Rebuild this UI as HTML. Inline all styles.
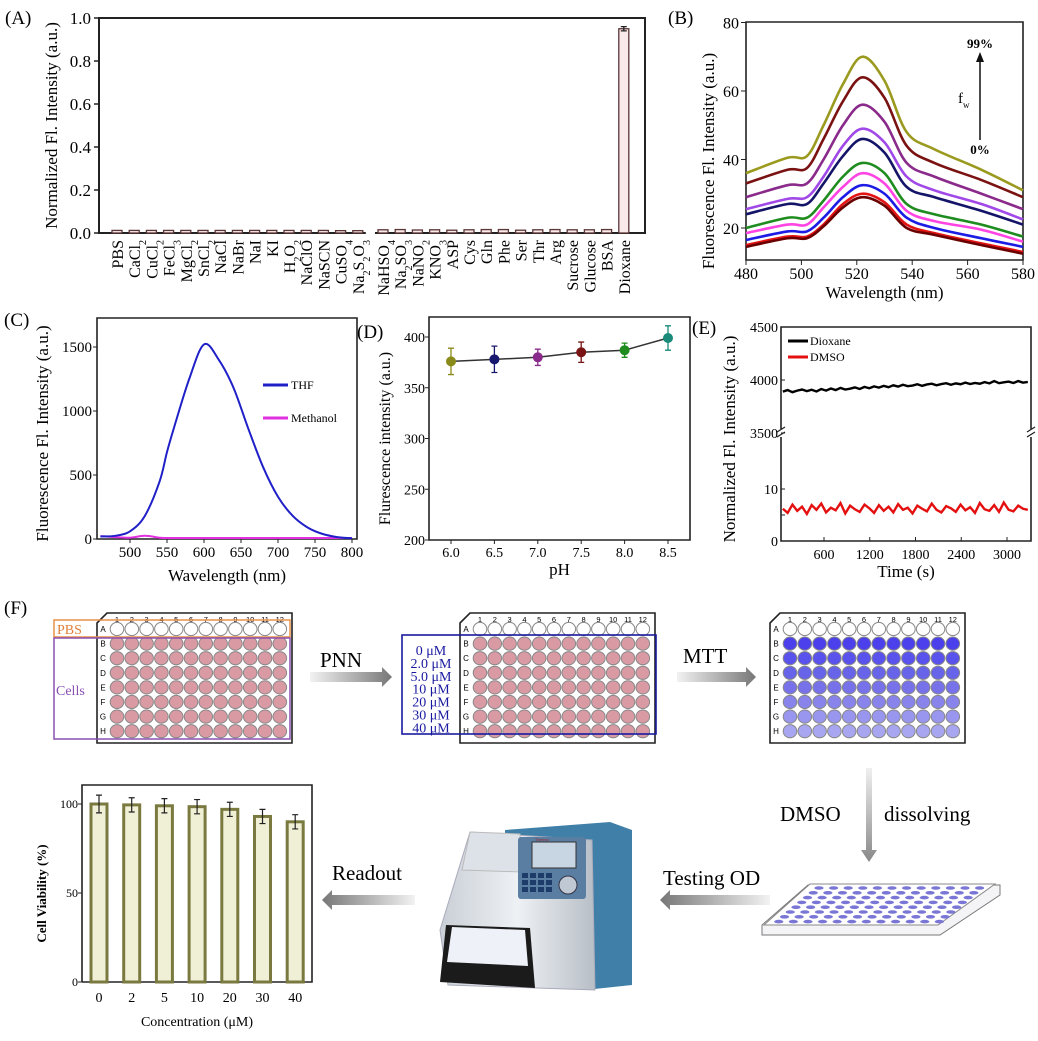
<!DOCTYPE html>
<html><head><meta charset="utf-8"><style>
html,body{margin:0;padding:0;background:#fff}
svg{display:block;font-family:"Liberation Serif",serif}
</style></head><body>
<svg id="fig" width="1038" height="1041" viewBox="0 0 1038 1041" xmlns="http://www.w3.org/2000/svg">
<defs>
<linearGradient id="gArrR" x1="0" x2="1" y1="0" y2="0"><stop offset="0" stop-color="#f2f2f2"/><stop offset="1" stop-color="#777"/></linearGradient>
<linearGradient id="gArrL" x1="1" x2="0" y1="0" y2="0"><stop offset="0" stop-color="#f2f2f2"/><stop offset="1" stop-color="#777"/></linearGradient>
<linearGradient id="gArrD" x1="0" x2="0" y1="0" y2="1"><stop offset="0" stop-color="#f0f0f0"/><stop offset="1" stop-color="#888"/></linearGradient>
<linearGradient id="gBody" x1="0" x2="1"><stop offset="0" stop-color="#c9cfd6"/><stop offset="0.5" stop-color="#eef1f4"/><stop offset="1" stop-color="#b7bec6"/></linearGradient>
</defs>
</svg>
<script>
// ---------- DATA ----------
const catsA = ["PBS","CaCl_2","CuCl_2","FeCl_3","MgCl_2","SnCl_2","NaCl","NaBr","NaI","KI","H_2O_2","NaClO","NaSCN","CuSO_4","Na_2S_2O_3","NaHSO_4","Na_2SO_3","NaNO_2","KNO_3","ASP","Cys","Gln","Phe","Ser","Thr","Arg","Sucrose","Glucose","BSA","Dioxane"];
const valsA = [0.012,0.012,0.012,0.012,0.012,0.012,0.012,0.012,0.012,0.012,0.012,0.012,0.012,0.011,0.011,0.015,0.016,0.014,0.015,0.013,0.015,0.016,0.016,0.013,0.015,0.016,0.015,0.015,0.016,0.95];
const ticksA = [0.0,0.2,0.4,0.6,0.8,1.0];

const wlB = [480,495,502,508,515,522,530,538,548,565,580];
const seriesB = [
 [36,40.5,41,50,62,70,63,48,43,37,31],
 [33,37,37.5,46,57,64,58,44,39,34,29],
 [29,32.5,33,40,50,56,51,39,35,30,25.5],
 [25.5,28.5,29,35,44,49,45,35,31,27,22.5],
 [24,27,27,33,41,46,42,32,29,25,21],
 [20,23,23,28,35,39,36,27,24,21,17.5],
 [18.5,21,21,26,32,36,33,25,22,19.5,16],
 [16.5,19,19,23,29,32.5,30,23,20,17,14.5],
 [15,17.5,17.5,21,27,30,27.5,21,18.5,15.5,13],
 [14.5,17,17,20.5,26,29,26.5,20,18,15,12.5]];
const colorsB = ["#9a9a1e","#7a1212","#8a2a8a","#a048e8","#141468","#1e8c1e","#ff44e4","#1c1ce4","#e41414","#6a0000"];
const ticksBx = [480,500,520,540,560,580];
const ticksBy = [20,40,60,80];

const wlC = [460,480,500,520,540,550,560,580,600,620,640,660,680,700,720,740,760,780,800];
const thfC = [20,25,60,180,450,680,880,1250,1520,1400,1180,860,560,330,180,90,40,15,5];
const metC = [22,15,10,25,10,8,8,8,8,8,8,8,8,8,8,8,8,8,8];
const ticksCx = [500,550,600,650,700,750,800];
const ticksCy = [0,500,1000,1500];

const phD = [6.0,6.5,7.0,7.5,8.0,8.5];
const valD = [376,378,380,385,387,399];
const errD = [13,13,8,10,7,12];
const colD = ["#8a8a1a","#18186e","#8a2a8a","#7a1414","#1e8c1e","#1a8a7a"];
const ticksDy = [200,250,300,350,400];

const timeE = [60,123,186,249,312,375,438,501,564,627,690,753,816,879,942,1005,1068,1131,1194,1257,1320,1383,1446,1509,1572,1635,1698,1761,1824,1887,1950,2013,2076,2139,2202,2265,2328,2391,2454,2517,2580,2643,2706,2769,2832,2895,2958,3021,3084,3147,3210,3273];
const dioxE = [3890,3905,3885,3900,3910,3895,3908,3892,3915,3900,3920,3905,3925,3910,3918,3930,3915,3935,3922,3940,3928,3945,3932,3950,3938,3955,3942,3948,3960,3945,3958,3965,3950,3962,3970,3955,3968,3960,3975,3962,3972,3965,3980,3968,3990,3970,3978,3985,3972,3990,3975,3982];
const dmsoE = [6.2,5.4,7.0,5.8,6.6,5.2,6.9,6.0,7.2,5.5,6.4,5.9,7.3,5.3,6.8,6.1,5.6,7.0,6.3,5.4,6.9,5.8,6.6,5.5,7.1,6.0,6.4,5.3,6.8,6.2,5.7,7.2,6.0,5.5,6.7,6.3,5.6,7.0,5.9,6.5,5.4,7.3,6.1,5.8,6.9,5.6,7.4,6.0,5.7,6.8,6.2,6.0];
const ticksEx = [600,1200,1800,2400,3000];

const concF = ["0","2","5","10","20","30","40"];
const viabF = [100,99.5,99,98.5,97,93,90];
const errF = [5,4,4,4,4,4,4];
const ticksFy = [0,50,100];

// ---------- HELPERS ----------
const svg = document.getElementById('fig');
const NS = "http://www.w3.org/2000/svg";
function mk(tag, attrs, parent){const e=document.createElementNS(NS,tag);for(const k in attrs)e.setAttribute(k,attrs[k]);(parent||svg).appendChild(e);return e;}
function txt(s, attrs, parent){const e=mk('text',attrs,parent);e.textContent=s;return e;}
function smooth(pts){let d="M"+pts[0][0]+","+pts[0][1];for(let i=0;i<pts.length-1;i++){const p0=pts[i-1]||pts[i],p1=pts[i],p2=pts[i+1],p3=pts[i+2]||p2;const c1=[p1[0]+(p2[0]-p0[0])/6,p1[1]+(p2[1]-p0[1])/6],c2=[p2[0]-(p3[0]-p1[0])/6,p2[1]-(p3[1]-p1[1])/6];d+=` C${c1[0]},${c1[1]} ${c2[0]},${c2[1]} ${p2[0]},${p2[1]}`;}return d;}
function subText(label, attrs, parent){const e=mk('text',attrs,parent);label.split(/(_\d)/).forEach(part=>{if(!part)return;const t=document.createElementNS(NS,'tspan');if(part[0]==='_'){t.textContent=part[1];t.setAttribute('font-size','10');t.setAttribute('baseline-shift','sub');}else t.textContent=part;e.appendChild(t);});return e;}

// ---------- PANEL A ----------
(function(){
 const g=mk('g',{});
 
 
 const L=99,R=645,T=18,B=233;
 const y=v=>B-(v)*(B-T)/1.0;
 const x=i=>117+i*17.2+(i>=15?8:0);
 const lab=txt("(A)",{x:5,y:24,'font-size':19},g);
 
 
 const ax=mk('path',{d:`M${L},${T}H${R}V${B}H${L}Z`,fill:'none',stroke:'#222','stroke-width':2},g);
 
 
 ticksA.forEach(t=>{mk('line',{x1:L,x2:L-5,y1:y(t),y2:y(t),stroke:'#222','stroke-width':1.5},g);
  const tl=txt(t.toFixed(1),{x:L-8,y:y(t)+6,'font-size':17,'text-anchor':'end'},g);
  
  });
 const yt=txt("Normalized Fl. Intensity (a.u.)",{x:0,y:0,'font-size':17,'text-anchor':'middle',transform:`translate(57,${(T+B)/2}) rotate(-90)`},g);
 
 
 catsA.forEach((c,i)=>{
  const h=B-y(valsA[i]);
  const b=mk('rect',{x:x(i)-5,y:B-h,width:10,height:h,fill:'#fbeaea',stroke:'#5a3535','stroke-width':1.3},g);
  
  
  if(valsA[i]>0.5){mk('path',{d:`M${x(i)-3},${y(valsA[i]+0.01)}h6M${x(i)},${y(valsA[i]+0.01)}V${y(valsA[i]-0.01)}M${x(i)-3},${y(valsA[i]-0.01)}h6`,stroke:'#222','stroke-width':1.3},g);}
  const tl=subText(c,{x:0,y:0,'font-size':16,'text-anchor':'end',transform:`translate(${x(i)+6},${B+7}) rotate(-90)`},g);
  
  
 });
 mk('rect',{x:x(14)+8,y:B-2,width:x(15)-x(14)-16,height:5,fill:'#fff'},g);
})();

// ---------- PANEL B ----------
(function(){
 const g=mk('g',{});
 
 
 const L=746,R=1023,T=22,B=260;
 const x=v=>L+(v-480)*(R-L)/100;
 const y=v=>296.5-v*3.425;
 const lab=txt("(B)",{x:668,y:24,'font-size':19},g);
 
 
 const ax=mk('path',{d:`M${L},${T}H${R}V${B}H${L}Z`,fill:'none',stroke:'#222','stroke-width':1.6},g);
 
 
 ticksBy.forEach(t=>{mk('line',{x1:L,x2:L-5,y1:y(t),y2:y(t),stroke:'#222'},g);const tl=txt(t,{x:L-7,y:y(t)+6,'font-size':16,'text-anchor':'end'},g);
  
  });
 ticksBx.forEach(t=>{mk('line',{x1:x(t),x2:x(t),y1:B,y2:B+5,stroke:'#222'},g);const tl=txt(t,{x:x(t),y:B+19,'font-size':16,'text-anchor':'middle'},g);
  
  });
 const xt=txt("Wavelength (nm)",{x:(L+R)/2,y:298,'font-size':17,'text-anchor':'middle'},g);
 
 
 const yt=txt("Fluorescence Fl. Intensity (a.u.)",{x:0,y:0,'font-size':17,'text-anchor':'middle',transform:`translate(714,${(T+B)/2+20}) rotate(-90)`},g);
 
 
 seriesB.forEach((s,k)=>{const p=mk('path',{d:smooth(s.map((v,i)=>[x(wlB[i]),y(v)])),fill:'none',stroke:colorsB[k],'stroke-width':2.6},g);
  
  });
 const t1=txt("99%",{x:980,y:48,'font-size':13,'font-weight':'bold','text-anchor':'middle'},g);
 
 
 mk('path',{d:"M980,140V60",stroke:'#111','stroke-width':1.5},g);
 mk('path',{d:"M976,62L980,52L984,62Z",fill:'#111'},g);
 const t2=txt("0%",{x:980,y:154,'font-size':13,'font-weight':'bold','text-anchor':'middle'},g);
 
 
 const fw=txt("f",{x:958,y:103,'font-size':15},g);
 
 
 txt("w",{x:963,y:108,'font-size':9},g);
})();

// ---------- PANEL C ----------
(function(){
 const g=mk('g',{});
 
 
 const L=97,R=357,T=318,B=539;
 const x=v=>130+(v-500)*(222/300);
 const y=v=>B-v*(192/1500);
 const lab=txt("(C)",{x:4,y:326,'font-size':19},g);
 
 
 const ax=mk('path',{d:`M${L},${T}H${R}V${B}H${L}Z`,fill:'none',stroke:'#222','stroke-width':1.6},g);
 
 
 ticksCy.forEach(t=>{mk('line',{x1:L,x2:L-4,y1:y(t),y2:y(t),stroke:'#222'},g);const tl=txt(t,{x:L-5,y:y(t)+5,'font-size':15,'text-anchor':'end'},g);
  
  });
 ticksCx.forEach(t=>{mk('line',{x1:x(t),x2:x(t),y1:B,y2:B+4,stroke:'#222'},g);const tl=txt(t,{x:x(t),y:B+18,'font-size':15,'text-anchor':'middle'},g);
  
  });
 const xt=txt("Wavelength (nm)",{x:(L+R)/2,y:581,'font-size':17,'text-anchor':'middle'},g);
 
 
 const yt=txt("Fluorescence Fl. Intensity (a.u.)",{x:0,y:0,'font-size':17,'text-anchor':'middle',transform:`translate(48,${(T+B)/2+5}) rotate(-90)`},g);
 
 
 const m=mk('path',{d:smooth(metC.map((v,i)=>[x(wlC[i]),y(v)])),fill:'none',stroke:'#e030e0','stroke-width':2},g);
 
 
 const t=mk('path',{d:smooth(thfC.map((v,i)=>[x(wlC[i]),y(v)])),fill:'none',stroke:'#2020c8','stroke-width':2},g);
 
 
 mk('line',{x1:263,x2:288,y1:385,y2:385,stroke:'#2020c8','stroke-width':3},g);
 const l1=txt("THF",{x:291,y:389,'font-size':12},g);
 
 
 mk('line',{x1:263,x2:288,y1:418,y2:418,stroke:'#e030e0','stroke-width':3},g);
 const l2=txt("Methanol",{x:291,y:422,'font-size':12},g);
 
 
})();

// ---------- PANEL D ----------
(function(){
 const g=mk('g',{});
 
 
 const L=429,R=690,T=317,B=540;
 const x=v=>451+(v-6)*(217/2.5);
 const y=v=>B-(v-200)*(203/200);
 const lab=txt("(D)",{x:357,y:338,'font-size':19},g);
 
 
 const ax=mk('path',{d:`M${L},${T}H${R}V${B}H${L}Z`,fill:'none',stroke:'#222','stroke-width':1.6},g);
 
 
 ticksDy.forEach(t=>{mk('line',{x1:L,x2:L-4,y1:y(t),y2:y(t),stroke:'#222'},g);const tl=txt(t,{x:L-4,y:y(t)+5,'font-size':14,'text-anchor':'end'},g);
  
  });
 phD.forEach(t=>{mk('line',{x1:x(t),x2:x(t),y1:B,y2:B+4,stroke:'#222'},g);const tl=txt(t.toFixed(1),{x:x(t),y:B+17,'font-size':14,'text-anchor':'middle'},g);
  
  });
 const xt=txt("pH",{x:(L+R)/2,y:575,'font-size':17,'text-anchor':'middle'},g);
 
 
 const yt=txt("Flurescence intensity (a.u.)",{x:0,y:0,'font-size':16,'text-anchor':'middle',transform:`translate(390,${(T+B)/2+10}) rotate(-90)`},g);
 
 
 mk('polyline',{points:phD.map((p,i)=>x(p)+","+y(valD[i])).join(" "),fill:'none',stroke:'#333','stroke-width':1.5},g);
 phD.forEach((p,i)=>{const c=colD[i];
  mk('path',{d:`M${x(p)-3},${y(valD[i]+errD[i])}h6M${x(p)},${y(valD[i]+errD[i])}V${y(valD[i]-errD[i])}M${x(p)-3},${y(valD[i]-errD[i])}h6`,stroke:c,'stroke-width':1.3},g);
  const pt=mk('circle',{cx:x(p),cy:y(valD[i]),r:4.5,fill:c,stroke:c},g);
  
  });
})();

// ---------- PANEL E ----------
(function(){
 const g=mk('g',{});
 
 
 const L=781,R=1031,T=327,B=541,BR=433;
 const x=v=>824+(v-600)*(183/2400);
 const yU=v=>327+(4500-v)*(106/1000);
 const yL=v=>B-v*(52/10);
 const lab=txt("(E)",{x:692,y:334,'font-size':19},g);
 
 
 const ax=mk('path',{d:`M${L},${BR-4}V${T}H${R}V${BR-4}M${L},${BR+4}V${B}H${R}V${BR+4}`,fill:'none',stroke:'#222','stroke-width':1.6},g);
 
 
 mk('path',{d:`M${L-4},${BR-1}l8,-5M${L-4},${BR+4}l8,-5M${R-4},${BR-1}l8,-5M${R-4},${BR+4}l8,-5`,stroke:'#222','stroke-width':1.3},g);
 [[4500,yU(4500)],[4000,yU(4000)],[3500,yU(3500)],[10,yL(10)],[5,yL(5)],[0,yL(0)]].forEach(([t,yy])=>{mk('line',{x1:L,x2:L+4,y1:yy,y2:yy,stroke:'#222'},g);if(t!==5){const tl=txt(t,{x:L-3,y:yy+5,'font-size':14,'text-anchor':'end'},g);
  
  }});
 ticksEx.forEach(t=>{mk('line',{x1:x(t),x2:x(t),y1:B,y2:B-4,stroke:'#222'},g);const tl=txt(t,{x:x(t),y:B+18,'font-size':14,'text-anchor':'middle'},g);
  
  });
 const xt=txt("Time (s)",{x:(L+R)/2,y:577,'font-size':17,'text-anchor':'middle'},g);
 
 
 const yt=txt("Normalized Fl. Intensity (a.u.)",{x:0,y:0,'font-size':17,'text-anchor':'middle',transform:`translate(735,${(T+B)/2+5}) rotate(-90)`},g);
 
 
 const d1=mk('polyline',{points:timeE.map((t,i)=>x(t)+","+yU(dioxE[i])).join(" "),fill:'none',stroke:'#000','stroke-width':2.4},g);
 
 
 const d2=mk('polyline',{points:timeE.map((t,i)=>x(t)+","+yL(dmsoE[i])).join(" "),fill:'none',stroke:'#e41010','stroke-width':2.4},g);
 
 
 mk('line',{x1:788,x2:808,y1:341,y2:341,stroke:'#000','stroke-width':3},g);
 const l1=txt("Dioxane",{x:810,y:345,'font-size':12},g);
 
 
 mk('line',{x1:788,x2:808,y1:357,y2:357,stroke:'#e41010','stroke-width':3},g);
 const l2=txt("DMSO",{x:810,y:361,'font-size':12},g);
 
 
})();

// ---------- PANEL F: plates ----------
const rowsF = ["A","B","C","D","E","F","G","H"];
function plate(x0, rowColors, name){
 const g=mk('g',{});
 
 
 const w=195,y0=613,h=130;
 mk('path',{d:`M${x0+10},${y0}H${x0+w}V${y0+h}H${x0}V${y0+10}Z`,fill:'#fff',stroke:'#222','stroke-width':1.6},g);
 for(let c=0;c<12;c++) txt(String(c+1),{x:x0+20+c*14.8,y:y0+9,'font-size':7.5,'font-family':'Liberation Sans','text-anchor':'middle'},g);
 rowsF.forEach((r,ri)=>{const cy=y0+16+ri*14.6;
  txt(r,{x:x0+6,y:cy+3,'font-size':8,'font-family':'Liberation Sans','text-anchor':'middle'},g);
  for(let c=0;c<12;c++){mk('ellipse',{cx:x0+20+c*14.8,cy:cy,rx:6.8,ry:6.6,fill:rowColors[ri],stroke:'#888','stroke-width':1},g);}
 });
 return g;
}
const pink="#d99aa4";
plate(97,["#fff",pink,pink,pink,pink,pink,pink,pink],'plate-cells');
plate(460,["#fff",pink,pink,pink,pink,pink,pink,pink],'plate-pnn');
plate(770,["#fff","#4c40ec","#5a52ec","#6864ea","#7872ea","#8884ec","#9896ee","#a8a6f0"],'plate-mtt');

(function(){
 const g=mk('g',{});
 
 
 const lab=txt("(F)",{x:4,y:614,'font-size':19},g);
 
 
 mk('rect',{x:54,y:620,width:236,height:17,fill:'none',stroke:'#e8904a','stroke-width':1.5},g);
 const p=txt("PBS",{x:57,y:634,'font-size':14,fill:'#e0803a'},g);
 
 
 mk('rect',{x:54,y:638,width:236,height:101,fill:'none',stroke:'#8a50b0','stroke-width':1.5},g);
 const c=txt("Cells",{x:56,y:695,'font-size':14,fill:'#8a50b0'},g);
 
 
 mk('rect',{x:402,y:635,width:254,height:99,fill:'none',stroke:'#1a1aa0','stroke-width':1.6},g);
 ["0 μM","2.0 μM","5.0 μM","10 μM","20 μM","30 μM","40 μM"].forEach((s,i)=>{const t=txt(s,{x:431,y:655+i*12.9,'font-size':14,fill:'#1a1aa0','text-anchor':'middle'},g);
  
  });
 function arrowR(x1,x2,y){mk('path',{d:`M${x1},${y-5}H${x2-10}V${y-10}L${x2},${y}L${x2-10},${y+10}V${y+5}H${x1}Z`,fill:'url(#gArrR)'},g);}
 function arrowL(x1,x2,y){mk('path',{d:`M${x1},${y-5}H${x2+10}V${y-10}L${x2},${y}L${x2+10},${y+10}V${y+5}H${x1}Z`,fill:'url(#gArrL)'},g);}
 arrowR(310,392,677); arrowR(677,756,677);
 arrowL(415,322,900); arrowL(770,660,900);
 mk('path',{d:"M866,768V850H861L869,862L877,850H872V768Z",fill:'url(#gArrD)'},g);
 [["PNN",320,667,21],["MTT",683,663,21],["Readout",332,880,21],["Testing OD",663,885,21],["DMSO",780,821,21],["dissolving",884,821,21]].forEach(([s,xx,yy,fs])=>{const t=txt(s,{x:xx,y:yy,'font-size':fs},g);
  
  });
 const tp=mk('g',{},g);
 
 
 mk('path',{d:"M808,885L1000,885L1000,895L940,935L762,935L762,925Z",fill:'#f4f4f6',stroke:'#777'},tp);
 mk('path',{d:"M810,884L995,884L938,925L764,925Z",fill:'#fff',stroke:'#888'},tp);
 for(let r=0;r<8;r++)for(let cc=0;cc<12;cc++){const t=r/8;const xs=814-t*46+cc*(14.6);mk('ellipse',{cx:xs+5,cy:888+r*4.8,rx:4.6,ry:1.8,fill:'#7a76d6'},tp);}
 const m=mk('g',{},g);
 
 
 mk('path',{d:"M505,830L610,822L632,830L632,985L585,990L505,930Z",fill:'#3f7fa8'},m);
 mk('path',{d:"M470,832L592,840L595,990L448,985L440,930Z",fill:'url(#gBody)',stroke:'#aab'},m);
 mk('path',{d:"M470,832L520,834L522,872L462,870Z",fill:'#dde2e8',stroke:'#bbb'},m);
 mk('rect',{x:518,y:837,width:68,height:62,fill:'#5a7da2',rx:3},m);
 mk('rect',{x:532,y:842,width:44,height:26,fill:'#c8d6e4',stroke:'#333'},m);
 txt("Thermo",{x:535,y:841,'font-size':4,'font-family':'Liberation Sans',fill:'#a22'},m);
 for(let r=0;r<3;r++)for(let cc=0;cc<4;cc++)mk('rect',{x:522+cc*8,y:873+r*7,width:6,height:5,fill:'#1e3c6a'},m);
 mk('circle',{cx:568,cy:885,r:9,fill:'#c0c8d4',stroke:'#334'},m);
 mk('path',{d:"M446,925L530,928L535,988L440,982Z",fill:'#1b1b1b'},m);
 mk('path',{d:"M452,927L525,930L528,966L447,962Z",fill:'#eef2f8'},m);
})();

// ---------- Cell viability bar chart ----------
(function(){
 const g=mk('g',{});
 
 
 const L=82,R=312,T=785,B=982;
 const x=i=>99+i*32.7;
 const y=v=>B-v*(178/100);
 mk('path',{d:`M${L},${B}V${T}H${R}V${B}H${L}`,fill:'none',stroke:'#222','stroke-width':1.6},g);
 ticksFy.forEach(t=>{mk('line',{x1:L,x2:L-4,y1:y(t),y2:y(t),stroke:'#222'},g);const tl=txt(t,{x:L-4,y:y(t)+4,'font-size':12,'text-anchor':'end'},g);
  
  });
 concF.forEach((c,i)=>{
  const b=mk('rect',{x:x(i)-8,y:y(viabF[i]),width:16,height:B-y(viabF[i]),fill:'#f0f0d6',stroke:'#7a7a40','stroke-width':3},g);
  
  
  mk('path',{d:`M${x(i)-3},${y(viabF[i]+errF[i])}h6M${x(i)},${y(viabF[i]+errF[i])}V${y(viabF[i]-errF[i])}M${x(i)-3},${y(viabF[i]-errF[i])}h6`,stroke:'#222','stroke-width':1.2},g);
  const tl=txt(c,{x:x(i),y:B+20,'font-size':14,'text-anchor':'middle'},g);
  
  
 });
 const xt=txt("Concentration (μM)",{x:(L+R)/2,y:1026,'font-size':14,'text-anchor':'middle'},g);
 
 
 const yt=txt("Cell Viability (%)",{x:0,y:0,'font-size':13,'font-weight':'bold','text-anchor':'middle',transform:`translate(46,${(T+B)/2+10}) rotate(-90)`},g);
 
 
})();
</script>
</body></html>
